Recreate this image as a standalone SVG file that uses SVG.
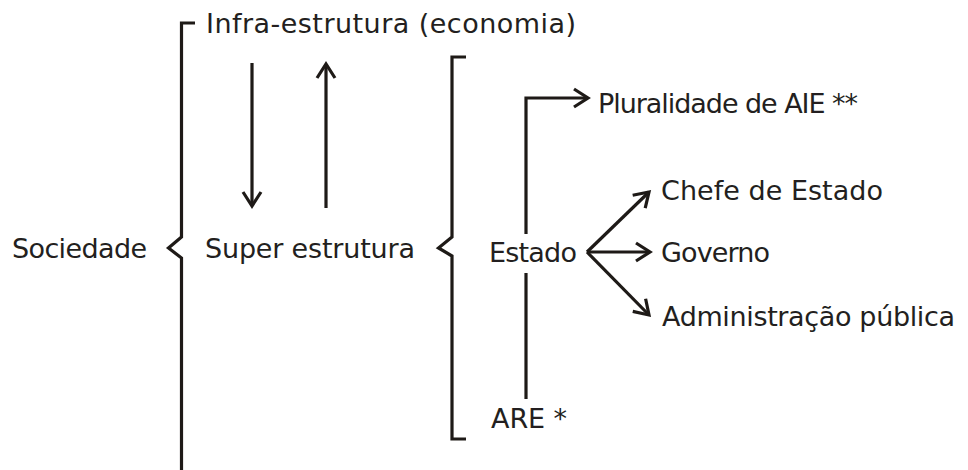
<svg xmlns="http://www.w3.org/2000/svg" width="968" height="470" viewBox="0 0 968 470">
<style>
.t{font-family:"DejaVu Sans","Verdana",sans-serif;font-size:27px;fill:#231f20}
.l{fill:none;stroke:#1e1a17;stroke-width:3.2}
</style>
<defs>
<marker id="ah" viewBox="-18 -12 22 24" markerWidth="22" markerHeight="24" refX="0" refY="0" orient="auto" markerUnits="userSpaceOnUse" overflow="visible">
<path d="M-14,-9 L0,0 L-14,9" fill="none" stroke="#1e1a17" stroke-width="3.2"/>
</marker>
</defs>
<rect width="968" height="470" fill="#fff"/>
<g id="connectors">
<path class="l" d="M195,23 H181.5 V237 L168.5,248 L181.5,258 V470"/>
<path class="l" d="M466,57 H452 V237 L438.5,248 L452,256 V439 H466"/>
<line class="l" x1="252" y1="63" x2="252" y2="206" marker-end="url(#ah)"/>
<line class="l" x1="326" y1="208" x2="326" y2="64" marker-end="url(#ah)"/>
<path class="l" d="M526,234 V98 H588" marker-end="url(#ah)"/>
<line class="l" x1="526" y1="273" x2="526" y2="399"/>
<line class="l" x1="587" y1="252" x2="649" y2="192" marker-end="url(#ah)"/>
<line class="l" x1="587" y1="252" x2="650" y2="252" marker-end="url(#ah)"/>
<line class="l" x1="587" y1="252" x2="649" y2="315" marker-end="url(#ah)"/>
</g>
<g id="sociedade"><text class="t" x="12" y="258" textLength="135" lengthAdjust="spacing">Sociedade</text></g>
<g id="infra"><text class="t" x="206" y="33" textLength="370" lengthAdjust="spacing">Infra-estrutura (economia)</text></g>
<g id="super"><text class="t" x="205" y="258" textLength="210" lengthAdjust="spacing">Super estrutura</text></g>
<g id="estado"><text class="t" x="489" y="262" textLength="88" lengthAdjust="spacing">Estado</text></g>
<g id="pluralidade"><text class="t" x="598" y="113" textLength="260" lengthAdjust="spacing">Pluralidade de AIE **</text></g>
<g id="chefe"><text class="t" x="661" y="200" textLength="222" lengthAdjust="spacing">Chefe de Estado</text></g>
<g id="governo"><text class="t" x="661" y="262" textLength="109" lengthAdjust="spacing">Governo</text></g>
<g id="administracao"><text class="t" x="662" y="326" textLength="293" lengthAdjust="spacing">Administração pública</text></g>
<g id="are"><text class="t" x="491" y="428" textLength="76" lengthAdjust="spacing">ARE *</text></g>
</svg>
